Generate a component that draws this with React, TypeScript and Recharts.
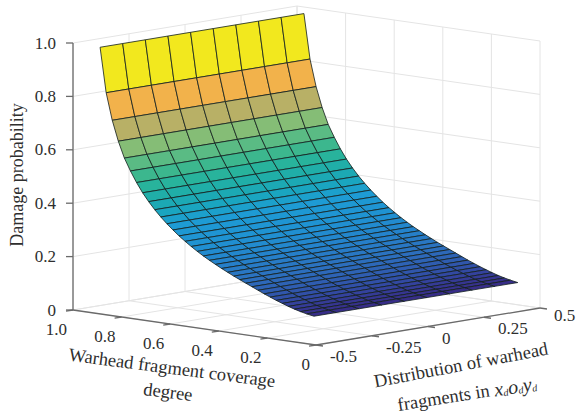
import React from "react";
import { ScatterChart, Scatter, XAxis, YAxis } from "recharts";

const coverage = [0.93,0.905,0.88,0.855,0.83,0.805,0.78,0.755,0.73,0.705,0.68,0.655,0.63,0.605,0.58,0.555,0.53,0.505,0.48,0.455,0.43,0.405,0.38,0.355,0.33,0.305,0.28,0.255,0.23,0.205,0.18,0.155,0.13,0.105,0.08,0.05];
const damage = [0.987,0.82,0.72,0.645,0.585,0.54,0.5,0.465,0.435,0.408,0.384,0.362,0.342,0.323,0.306,0.29,0.275,0.261,0.248,0.236,0.224,0.213,0.202,0.192,0.182,0.172,0.162,0.152,0.143,0.134,0.126,0.118,0.111,0.105,0.1,0.095];
const spread = [-0.455,-0.354,-0.253,-0.152,-0.051,0.05,0.151,0.252,0.353,0.455];
const zTicks = [0,0.2,0.4,0.6,0.8,1];
const zTickLabels = ["0","0.2","0.4","0.6","0.8","1.0"];
const cTicks = [1,0.8,0.6,0.4,0.2,0];
const cTickLabels = ["1.0","0.8","0.6","0.4","0.2","0"];
const dTicks = [-0.5,-0.25,0,0.25,0.5];
const dTickLabels = ["-0.5","-0.25","0","0.25","0.5"];

const colorStops: [number, string][] = [
  [0.987,"#f2e81e"],[0.82,"#f2b24b"],[0.72,"#b8b066"],[0.645,"#85bd76"],[0.585,"#5abb84"],[0.54,"#3cb78e"],
  [0.5,"#28b39c"],[0.465,"#20aea8"],[0.435,"#1ca9b4"],[0.408,"#1aa5c0"],[0.384,"#1ca0cc"],[0.362,"#1e9bd4"],
  [0.3,"#1f92d2"],[0.25,"#2484cc"],[0.2,"#2b72c0"],[0.16,"#2f5cb0"],[0.13,"#3346a0"],[0.11,"#363490"],[0.095,"#382a84"],
];

const hex = (s: string) => [1,3,5].map((i) => parseInt(s.slice(i, i + 2), 16));
function colorFor(z: number) {
  for (let k = 0; k < colorStops.length - 1; k++) {
    const [z0, c0] = colorStops[k];
    const [z1, c1] = colorStops[k + 1];
    if (z <= z0 && z >= z1) {
      const t = (z0 - z) / (z0 - z1);
      const a = hex(c0), b = hex(c1);
      return `rgb(${a.map((v, i) => Math.round(v + (b[i] - v) * t)).join(",")})`;
    }
  }
  return colorStops[colorStops.length - 1][1];
}

// orthographic view of the 3-D box onto the chart's plane
const view = (c: number, d: number, z: number): [number, number] => [
  316 - 243 * c + 224 * (d + 0.5),
  345 - 35 * c - 37 * (d + 0.5) - 267 * z,
];

type P = [number, number];
const cells: any[] = [];
for (let i = 0; i < coverage.length - 1; i++) {
  for (let j = 0; j < spread.length - 1; j++) {
    const poly: P[] = [
      view(coverage[i], spread[j], damage[i]),
      view(coverage[i], spread[j + 1], damage[i]),
      view(coverage[i + 1], spread[j + 1], damage[i + 1]),
      view(coverage[i + 1], spread[j], damage[i + 1]),
    ];
    const vx = poly.reduce((s, p) => s + p[0], 0) / 4;
    const vy = poly.reduce((s, p) => s + p[1], 0) / 4;
    cells.push({ vx, vy, poly, fill: colorFor(damage[i]) });
  }
}

const seg = (a: P, b: P) => ({ vx: (a[0] + b[0]) / 2, vy: (a[1] + b[1]) / 2, dx: b[0] - a[0], dy: b[1] - a[1] });

const gridSegs: any[] = [];
zTicks.forEach((z) => {
  gridSegs.push(seg(view(1, -0.5, z), view(1, 0.5, z)));
  gridSegs.push(seg(view(1, 0.5, z), view(0, 0.5, z)));
});
dTicks.forEach((d) => {
  gridSegs.push(seg(view(1, d, 0), view(1, d, 1)));
  gridSegs.push(seg(view(1, d, 0), view(0, d, 0)));
});
cTicks.forEach((c) => {
  gridSegs.push(seg(view(c, 0.5, 0), view(c, 0.5, 1)));
  gridSegs.push(seg(view(c, -0.5, 0), view(c, 0.5, 0)));
});

const axisSegs: any[] = [
  seg(view(1, -0.5, 0), view(1, -0.5, 1)),
  seg(view(1, -0.5, 0), view(0, -0.5, 0)),
  seg(view(0, -0.5, 0), view(0, 0.5, 0)),
];
zTicks.forEach((z) => {
  const p = view(1, -0.5, z);
  axisSegs.push(seg(p, [p[0] - 7, p[1]]));
});
cTicks.forEach((c) => {
  const p = view(c, -0.5, 0);
  axisSegs.push(seg(p, [p[0] - 7, p[1] + 1.2]));
});
dTicks.forEach((d) => {
  const p = view(0, d, 0);
  axisSegs.push(seg(p, [p[0] + 7, p[1] + 1]));
});

const tickLabels: any[] = [
  ...zTicks.map((z, i) => { const p = view(1, -0.5, z); return { vx: p[0] - 17, vy: p[1] + 5.5, text: zTickLabels[i], anchor: "end" }; }),
  ...cTicks.map((c, i) => { const p = view(c, -0.5, 0); return { vx: p[0] - 6, vy: p[1] + 25, text: cTickLabels[i], anchor: "end" }; }),
  ...dTicks.map((d, i) => { const p = view(0, d, 0); return { vx: p[0] + 14, vy: p[1] + (d === 0.5 ? 13 : 17), text: dTickLabels[i], anchor: "start" }; }),
];

const titleA = [{ vx: 17, vy: 175 }];
const titleB = [{ vx: 172, vy: 368 }];
const titleB2 = [{ vx: 168, vy: 392 }];
const titleC = [{ vx: 461, vy: 365 }];
const titleC2 = [{ vx: 467, vy: 394 }];

const FONT = "'Liberation Serif', serif";
const TEXT = "#2e2e2e";
const textProps = { fontFamily: FONT, fontSize: 18.5, fill: TEXT, textAnchor: "middle" as const, dominantBaseline: "central" as const };

const Cell = ({ cx, cy, payload }: any) => (
  <polygon
    points={payload.poly.map((p: P) => `${cx + p[0] - payload.vx},${cy + p[1] - payload.vy}`).join(" ")}
    fill={payload.fill}
    stroke="#14201f"
    strokeOpacity={0.9}
    strokeWidth={0.9}
  />
);
const lineShape = (color: string, width: number) => ({ cx, cy, payload }: any) => (
  <line x1={cx - payload.dx / 2} y1={cy - payload.dy / 2} x2={cx + payload.dx / 2} y2={cy + payload.dy / 2} stroke={color} strokeWidth={width} />
);
const TickLabel = ({ cx, cy, payload }: any) => (
  <text x={cx} y={cy} fontFamily={FONT} fontSize={17} fill={TEXT} textAnchor={payload.anchor}>{payload.text}</text>
);
const rotated = (angle: number, content: React.ReactNode, size = 18.5) => ({ cx, cy }: any) => (
  <text x={cx} y={cy} transform={`rotate(${angle} ${cx} ${cy})`} {...textProps} fontSize={size}>{content}</text>
);
const fragmentsLine = (
  <>
    fragments in{" "}
    <tspan fontStyle="italic" fontSize={20}>x</tspan>
    <tspan fontSize={10} dy={4} fontStyle="italic">d</tspan>
    <tspan dy={-4} fontStyle="italic" fontSize={20}>o</tspan>
    <tspan fontSize={10} dy={4} fontStyle="italic">d</tspan>
    <tspan dy={-4} fontStyle="italic" fontSize={20}>y</tspan>
    <tspan fontSize={10} dy={4} fontStyle="italic">d</tspan>
  </>
);

export default function App() {
  return (
    <div style={{ position: "absolute", left: 0, top: 0, width: 579, height: 415 }}>
      <ScatterChart width={579} height={415} margin={{ top: 0, right: 0, bottom: 0, left: 0 }} style={{ background: "#fff" }}>
        <XAxis type="number" dataKey="vx" domain={[0, 579]} hide allowDataOverflow />
        <YAxis type="number" dataKey="vy" domain={[0, 415]} reversed hide allowDataOverflow />
        <Scatter data={gridSegs} shape={lineShape("#e4e4e4", 1)} isAnimationActive={false} />
        <Scatter data={axisSegs} shape={lineShape("#6a6a6a", 1.3)} isAnimationActive={false} />
        <Scatter data={cells} shape={Cell} isAnimationActive={false} />
        <Scatter data={tickLabels} shape={TickLabel} isAnimationActive={false} />
        <Scatter data={titleA} shape={rotated(-90, "Damage probability", 18)} isAnimationActive={false} />
        <Scatter data={titleB} shape={rotated(7.4, "Warhead fragment coverage")} isAnimationActive={false} />
        <Scatter data={titleB2} shape={rotated(7, "degree")} isAnimationActive={false} />
        <Scatter data={titleC} shape={rotated(-10.8, "Distribution of warhead")} isAnimationActive={false} />
        <Scatter data={titleC2} shape={rotated(-9, fragmentsLine)} isAnimationActive={false} />
      </ScatterChart>
    </div>
  );
}
